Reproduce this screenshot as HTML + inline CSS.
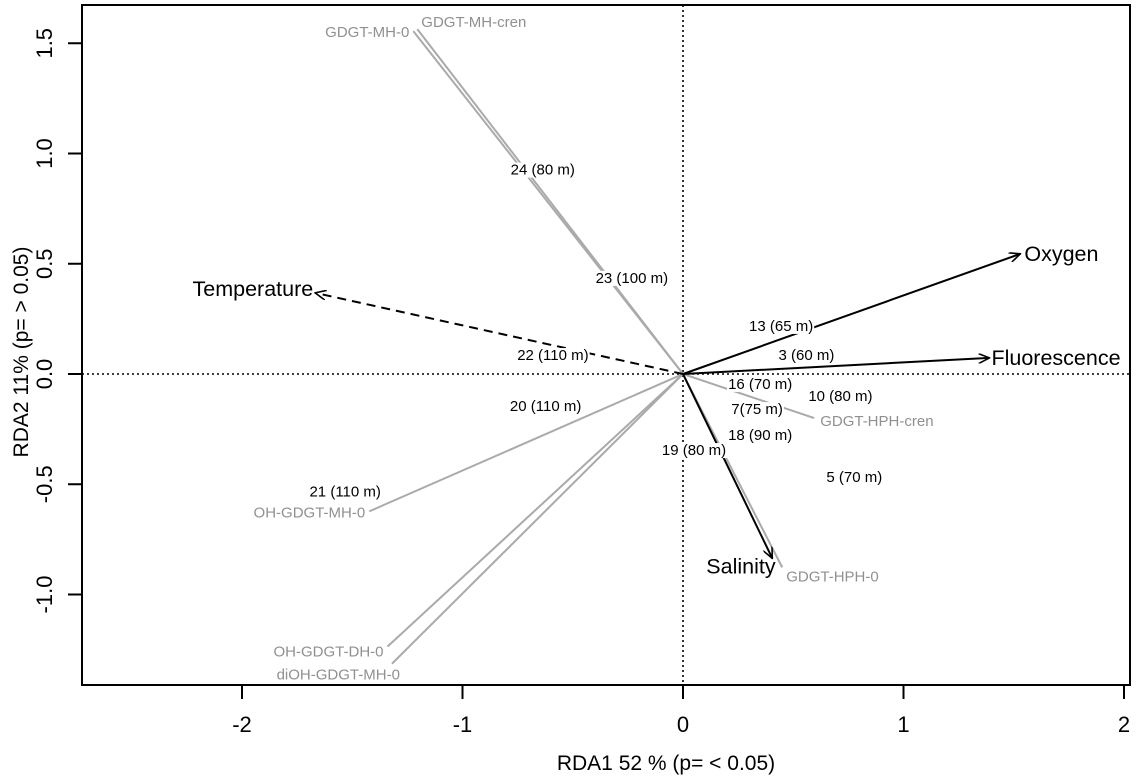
<!DOCTYPE html>
<html><head><meta charset="utf-8"><style>
body{margin:0;background:#fff}
svg{display:block;font-family:"Liberation Sans",Arial,sans-serif}
</style></head><body>
<svg id="c" width="1144" height="782">
<defs><marker id="ah" markerWidth="12" markerHeight="10" refX="11" refY="5" orient="auto" markerUnits="userSpaceOnUse"><path d="M0,0 L11,5 L0,10" fill="none" stroke="#000" stroke-width="1.6"/></marker></defs>
</svg>
<script>
const siteLabels=["24 (80 m)","23 (100 m)","13 (65 m)","22 (110 m)","3 (60 m)","16 (70 m)","10 (80 m)","20 (110 m)","7(75 m)","18 (90 m)","19 (80 m)","5 (70 m)","21 (110 m)"];
const siteX=[-0.636,-0.232,0.445,-0.59,0.56,0.35,0.714,-0.623,0.336,0.35,0.05,0.777,-1.532];
const siteY=[0.927,0.436,0.218,0.086,0.086,-0.045,-0.1,-0.145,-0.159,-0.277,-0.345,-0.468,-0.532];
const spNames=["GDGT-MH-0","GDGT-MH-cren","OH-GDGT-MH-0","OH-GDGT-DH-0","diOH-GDGT-MH-0","GDGT-HPH-cren","GDGT-HPH-0"];
const spX=[-1.223,-1.205,-1.423,-1.34,-1.32,0.595,0.45];
const spY=[1.555,1.564,-0.623,-1.236,-1.314,-0.2,-0.877];
const envNames=["Oxygen","Fluorescence","Salinity","Temperature"];
const envX=[1.53,1.39,0.405,-1.668];
const envY=[0.545,0.073,-0.836,0.368];
const xTicks=[-2,-1,0,1,2];
const yTicks=[-1.0,-0.5,0.0,0.5,1.0,1.5];
const L=82,R=1130,T=5,B=685;
const sx=v=>683+v*220.5, sy=v=>374-v*220.5;
const svg=document.getElementById('c'),NS="http://www.w3.org/2000/svg";
function mk(t,a,txt){const e=document.createElementNS(NS,t);for(const k in a)e.setAttribute(k,a[k]);if(txt!=null)e.textContent=txt;svg.appendChild(e);return e;}
let e=mk('line',{x1:L,x2:R,y1:sy(0),y2:sy(0),stroke:'#000','stroke-width':1.6,'stroke-dasharray':'2,3'});

e=mk('line',{x1:sx(0),x2:sx(0),y1:T,y2:B,stroke:'#000','stroke-width':1.6,'stroke-dasharray':'2,3'});

const spAnchor=["end","start","end","end","end","start","start"];
const spDx=[-4,4,-4,-4,8,6,4], spDy=[6,-2,6,10,16,8,14];
spNames.forEach((n,i)=>{
 let l=mk('line',{x1:sx(0),y1:sy(0),x2:sx(spX[i]),y2:sy(spY[i]),stroke:'#aaa','stroke-width':2});
 
 let t=mk('text',{x:sx(spX[i])+spDx[i],y:sy(spY[i])+spDy[i],'font-size':15,fill:'#909090','text-anchor':spAnchor[i]},n);
 
});
const envDx=[4,2,-66,-2],envDy=[7,7,15,3],envAnchor=["start","start","start","end"];
envNames.forEach((n,i)=>{
 let a={x1:sx(0),y1:sy(0),x2:sx(envX[i]),y2:sy(envY[i]),stroke:'#000','stroke-width':2,'marker-end':'url(#ah)'};
 if(n==="Temperature")a['stroke-dasharray']='9,6';
 let l=mk('line',a);
 
 let t=mk('text',{x:sx(envX[i])+envDx[i],y:sy(envY[i])+envDy[i],'font-size':21.5,fill:'#000','text-anchor':envAnchor[i]},n);
 
});
siteLabels.forEach((n,i)=>{
 let t=mk('text',{x:sx(siteX[i]),y:sy(siteY[i])+5,'font-size':15,'text-anchor':'middle',fill:'#000'},n);
 const bb=t.getBBox();
 let r=mk('rect',{x:bb.x-1,y:bb.y+1,width:bb.width+2,height:bb.height-2,fill:'#fff'});
 svg.insertBefore(r,t);
 
 
});
e=mk('rect',{x:L,y:T,width:R-L,height:B-T,fill:'none',stroke:'#000','stroke-width':2});

xTicks.forEach(v=>{
 let l=mk('line',{x1:sx(v),x2:sx(v),y1:B,y2:B+14,stroke:'#000','stroke-width':2});
 
 let t=mk('text',{x:sx(v),y:B+47,'font-size':22,'text-anchor':'middle'},String(v));
 
});
yTicks.forEach(v=>{
 let l=mk('line',{x1:L-14,x2:L,y1:sy(v),y2:sy(v),stroke:'#000','stroke-width':2});
 
 let t=mk('text',{x:0,y:0,'font-size':22,'text-anchor':'middle',transform:`translate(52,${sy(v)}) rotate(-90)`},v.toFixed(1));
 
});
e=mk('text',{x:666,y:770,'font-size':21,'text-anchor':'middle'},"RDA1 52 % (p= < 0.05)");

e=mk('text',{x:0,y:0,'font-size':21,'text-anchor':'middle',transform:`translate(28,352) rotate(-90)`},"RDA2 11% (p= > 0.05)");

</script>
</body></html>
